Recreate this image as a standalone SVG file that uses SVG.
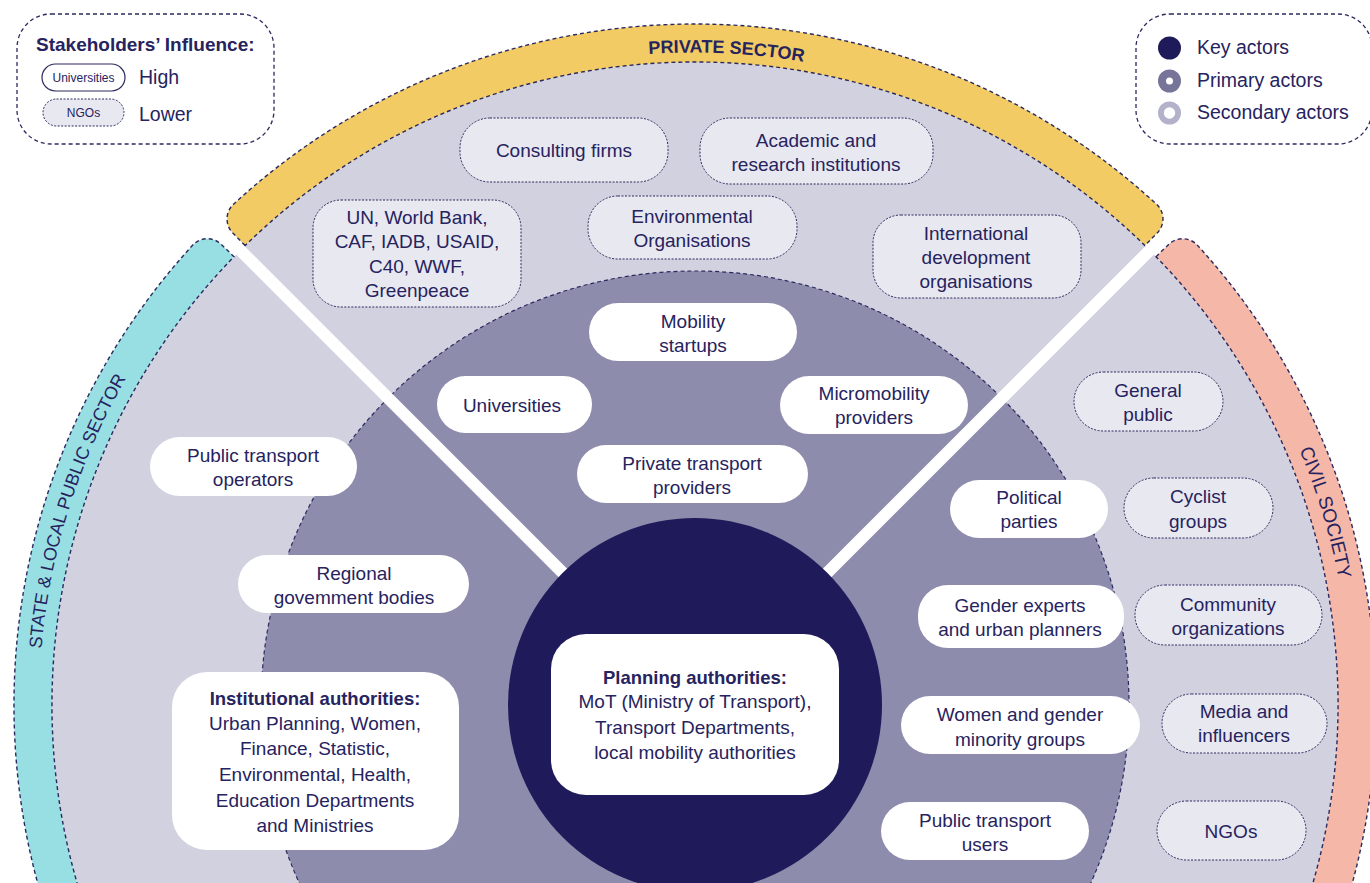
<svg xmlns="http://www.w3.org/2000/svg" width="1370" height="883" viewBox="0 0 1370 883">
<defs>
<style>
.t{font-family:"Liberation Sans",Arial,sans-serif;font-size:19px;fill:#26235E;text-anchor:middle;dominant-baseline:central}
.b{font-weight:bold;font-size:18.5px}
.s{font-size:12px}
.band{stroke:#2B2A5E;stroke-width:1.4;stroke-dasharray:4 3}
.sec{fill:#E8E8F0;stroke:#2B2A5E;stroke-width:1;stroke-dasharray:2 1.5}
.pri{fill:#FFFFFF}
.lbl{font-family:"Liberation Sans",Arial,sans-serif;fill:#26235E}
.lg{font-family:"Liberation Sans",Arial,sans-serif;fill:#26235E;font-size:19.5px;dominant-baseline:central}
.ttl{font-size:19px;font-weight:bold}
</style>
<path id="arcTop" d="M396.3,124.6 A652,652 0 0 1 1047.9,156.8"/>
<path id="arcLeft" d="M54.8,848.1 A656,656 0 0 1 251.0,222.1"/>
<path id="arcRight" d="M1142.6,225.4 A656,656 0 0 1 1334.1,852.8"/>
</defs>
<rect width="1370" height="883" fill="#FFFFFF"/>

<g id="rings">
<circle cx="695" cy="705" r="643" fill="#D2D1DF"/>
<circle cx="695" cy="705" r="434" fill="#8E8CAD" stroke="#2B2A5E" stroke-width="1.2" stroke-dasharray="4 3"/>
</g>

<g id="dividers">
<line x1="567.7" y1="577.7" x2="235.4" y2="245.4" stroke="#FFFFFF" stroke-width="12"/>
<line x1="822.3" y1="577.7" x2="1154.6" y2="245.4" stroke="#FFFFFF" stroke-width="12"/>
</g>

<g id="core">
<circle cx="695" cy="705" r="187" fill="#1F1B5B"/>
</g>

<g id="band-private">
<path class="band" fill="#F2CB65" d="M245.1,245.6 L232.5,232.7 A20,20 0 0 1 232.9,204.8 A681,681 0 0 1 1157.1,204.8 A20,20 0 0 1 1157.5,232.7 L1144.9,245.6 A643,643 0 0 0 245.1,245.6 Z"/>
<text class="lbl" font-size="18" font-weight="bold"><textPath href="#arcTop" startOffset="50%" text-anchor="middle">PRIVATE SECTOR</textPath></text>
</g>
<g id="band-state">
<path class="band" fill="#98DFE3" d="M138.1,1026.5 L105.2,1045.5 A681,681 0 0 1 193.0,244.8 A20,20 0 0 1 221.1,244.2 L234.0,256.7 A643,643 0 0 0 138.1,1026.5 Z"/>
<text class="lbl" font-size="18"><textPath href="#arcLeft" startOffset="50%" text-anchor="middle">STATE &amp; LOCAL PUBLIC SECTOR</textPath></text>
</g>
<g id="band-civil">
<path class="band" fill="#F4B7A8" d="M1156.0,256.7 L1168.9,244.2 A20,20 0 0 1 1197.0,244.8 A681,681 0 0 1 1284.8,1045.5 L1251.9,1026.5 A643,643 0 0 0 1156.0,256.7 Z"/>
<text class="lbl" font-size="19"><textPath href="#arcRight" startOffset="50%" text-anchor="middle">CIVIL SOCIETY</textPath></text>
</g>

<g id="legend-influence">
<rect x="17" y="14" width="257" height="130" rx="34" fill="#FFFFFF" stroke="#2B2A5E" stroke-width="1.3" stroke-dasharray="4 3"/>
<text class="lg ttl" x="36" y="44">Stakeholders’ Influence:</text>
<rect x="42" y="64" width="83" height="27" rx="13.5" fill="#FFFFFF" stroke="#2B2A5E" stroke-width="1.2"/>
<text class="t s" x="83.5" y="77.5">Universities</text>
<text class="lg" x="139" y="77">High</text>
<rect x="43" y="99" width="81" height="27" rx="13.5" class="sec"/>
<text class="t s" x="83.5" y="112.5">NGOs</text>
<text class="lg" x="139" y="114">Lower</text>
</g>

<g id="legend-actors">
<rect x="1136" y="14" width="236" height="130" rx="34" fill="#FFFFFF" stroke="#2B2A5E" stroke-width="1.3" stroke-dasharray="4 3"/>
<circle cx="1169.5" cy="48" r="11.5" fill="#1F1B5B"/>
<circle cx="1169.5" cy="81" r="11.5" fill="#767499"/>
<circle cx="1169.5" cy="81" r="3.5" fill="#FFFFFF"/>
<circle cx="1169.5" cy="113" r="11.5" fill="#B4B2CB"/>
<circle cx="1169.5" cy="113" r="5.7" fill="#FFFFFF"/>
<text class="lg" x="1197" y="47">Key actors</text>
<text class="lg" x="1197" y="80">Primary actors</text>
<text class="lg" x="1197" y="112">Secondary actors</text>
</g>

<g id="node-consulting">
<rect class="sec" x="460" y="118" width="208" height="64" rx="30"/>
<text class="t" x="564" y="150">Consulting firms</text>
</g>
<g id="node-academic">
<rect class="sec" x="700" y="118" width="233" height="66" rx="30"/>
<text class="t"><tspan x="816" y="140">Academic and</tspan><tspan x="816" y="164">research institutions</tspan></text>
</g>
<g id="node-un">
<rect class="sec" x="313" y="200" width="208" height="107" rx="28"/>
<text class="t"><tspan x="417" y="217">UN, World Bank,</tspan><tspan x="417" y="241">CAF, IADB, USAID,</tspan><tspan x="417" y="266">C40, WWF,</tspan><tspan x="417" y="290">Greenpeace</tspan></text>
</g>
<g id="node-environmental">
<rect class="sec" x="588" y="196" width="209" height="63" rx="30"/>
<text class="t"><tspan x="692" y="216">Environmental</tspan><tspan x="692" y="240">Organisations</tspan></text>
</g>
<g id="node-international">
<rect class="sec" x="873" y="215" width="208" height="83" rx="28"/>
<text class="t"><tspan x="976" y="233">International</tspan><tspan x="976" y="257">development</tspan><tspan x="976" y="281">organisations</tspan></text>
</g>

<g id="node-mobility">
<rect class="pri" x="589" y="303" width="208" height="58" rx="29"/>
<text class="t"><tspan x="693" y="321">Mobility</tspan><tspan x="693" y="345">startups</tspan></text>
</g>
<g id="node-universities">
<rect class="pri" x="437" y="376" width="155" height="57" rx="28.5"/>
<text class="t" x="512" y="405">Universities</text>
</g>
<g id="node-micromobility">
<rect class="pri" x="780" y="376" width="188" height="58" rx="29"/>
<text class="t"><tspan x="874" y="393">Micromobility</tspan><tspan x="874" y="417">providers</tspan></text>
</g>
<g id="node-private-transport">
<rect class="pri" x="577" y="445" width="231" height="58" rx="29"/>
<text class="t"><tspan x="692" y="463">Private transport</tspan><tspan x="692" y="487">providers</tspan></text>
</g>
<g id="node-pt-operators">
<rect class="pri" x="150" y="437" width="207" height="59" rx="29.5"/>
<text class="t"><tspan x="253" y="455">Public transport</tspan><tspan x="253" y="479">operators</tspan></text>
</g>
<g id="node-regional">
<rect class="pri" x="238" y="555" width="231" height="58" rx="29"/>
<text class="t"><tspan x="354" y="573">Regional</tspan><tspan x="354" y="597">govemment bodies</tspan></text>
</g>
<g id="node-institutional">
<rect class="pri" x="172" y="672" width="287" height="178" rx="35"/>
<text class="t"><tspan x="315" y="698" class="b">Institutional authorities:</tspan><tspan x="315" y="723">Urban Planning, Women,</tspan><tspan x="315" y="748">Finance, Statistic,</tspan><tspan x="315" y="774">Environmental, Health,</tspan><tspan x="315" y="800">Education Departments</tspan><tspan x="315" y="825">and Ministries</tspan></text>
</g>
<g id="node-planning">
<rect class="pri" x="551" y="634" width="288" height="161" rx="35"/>
<text class="t"><tspan x="695" y="677" class="b">Planning authorities:</tspan><tspan x="695" y="701">MoT (Ministry of Transport),</tspan><tspan x="695" y="727">Transport Departments,</tspan><tspan x="695" y="752">local mobility authorities</tspan></text>
</g>
<g id="node-political">
<rect class="pri" x="950" y="480" width="158" height="58" rx="29"/>
<text class="t"><tspan x="1029" y="497">Political</tspan><tspan x="1029" y="521">parties</tspan></text>
</g>
<g id="node-gender-experts">
<rect class="pri" x="918" y="585" width="206" height="63" rx="30"/>
<text class="t"><tspan x="1020" y="605">Gender experts</tspan><tspan x="1020" y="629">and urban planners</tspan></text>
</g>
<g id="node-women">
<rect class="pri" x="901" y="696" width="239" height="58" rx="29"/>
<text class="t"><tspan x="1020" y="714">Women and gender</tspan><tspan x="1020" y="739">minority groups</tspan></text>
</g>
<g id="node-pt-users">
<rect class="pri" x="881" y="802" width="208" height="58" rx="29"/>
<text class="t"><tspan x="985" y="820">Public transport</tspan><tspan x="985" y="844">users</tspan></text>
</g>

<g id="node-general-public">
<rect class="sec" x="1074" y="372" width="149" height="59" rx="29.5"/>
<text class="t"><tspan x="1148" y="390">General</tspan><tspan x="1148" y="414">public</tspan></text>
</g>
<g id="node-cyclist">
<rect class="sec" x="1124" y="478" width="149" height="60" rx="30"/>
<text class="t"><tspan x="1198" y="496">Cyclist</tspan><tspan x="1198" y="521">groups</tspan></text>
</g>
<g id="node-community">
<rect class="sec" x="1135" y="585" width="187" height="60" rx="30"/>
<text class="t"><tspan x="1228" y="604">Community</tspan><tspan x="1228" y="628">organizations</tspan></text>
</g>
<g id="node-media">
<rect class="sec" x="1162" y="694" width="165" height="59" rx="29.5"/>
<text class="t"><tspan x="1244" y="711">Media and</tspan><tspan x="1244" y="735">influencers</tspan></text>
</g>
<g id="node-ngos">
<rect class="sec" x="1157" y="801" width="149" height="59" rx="29.5"/>
<text class="t" x="1231" y="831">NGOs</text>
</g>
</svg>
